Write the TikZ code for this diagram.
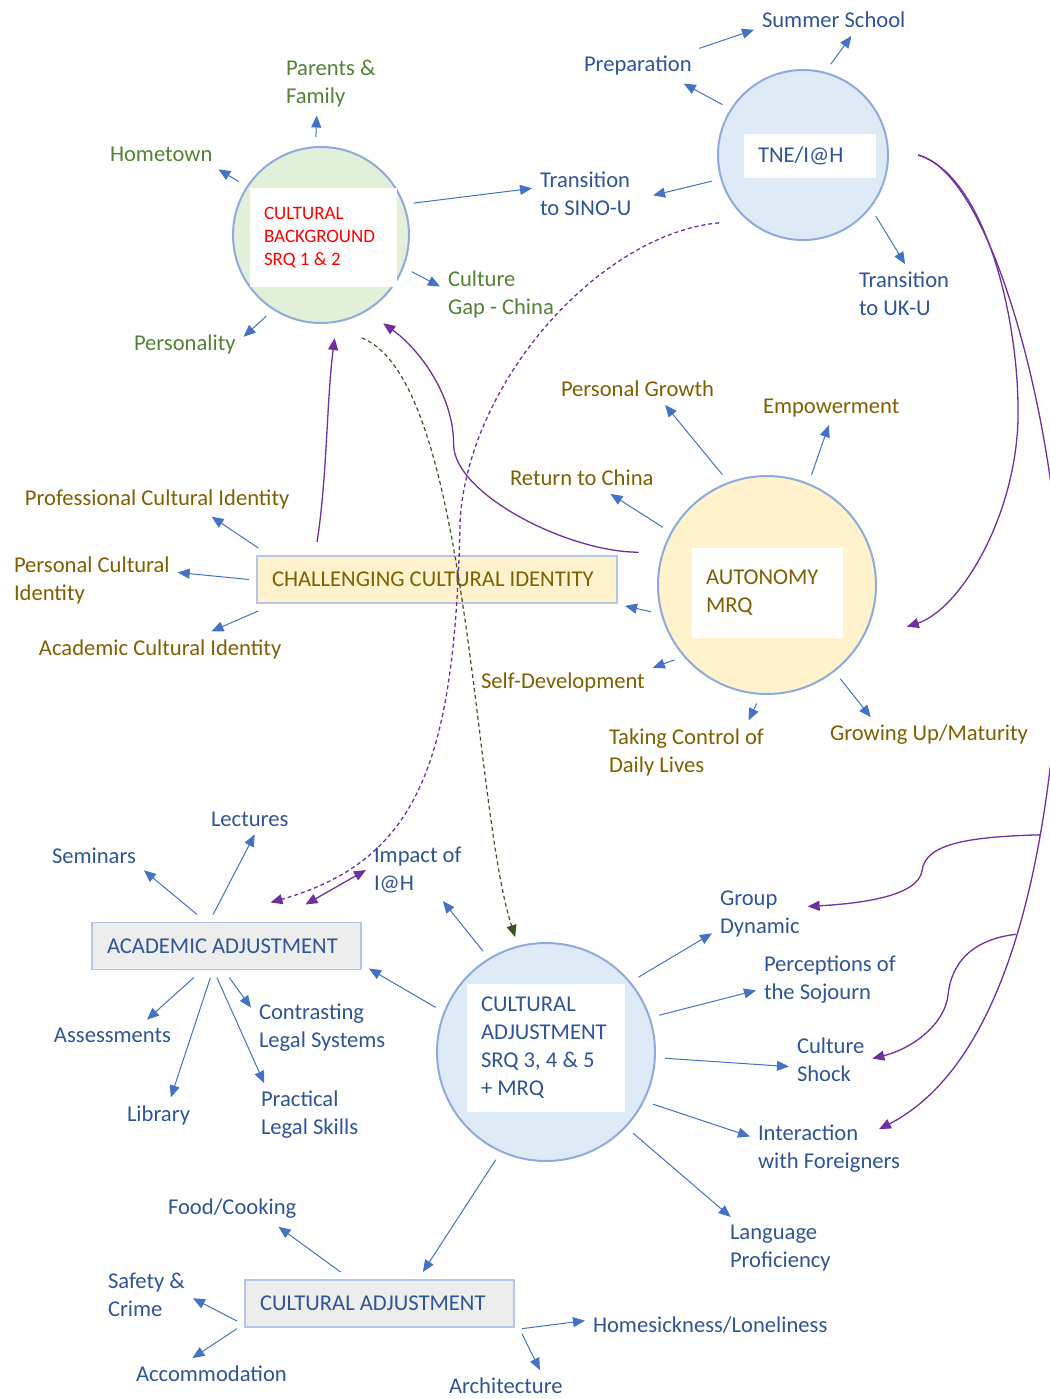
\documentclass[tikz,border=0pt]{standalone}
\usepackage{fontspec}
\setmainfont{Carlito}
\usepackage{tikz}
\usetikzlibrary{shapes, arrows.meta, positioning}
\usepackage{xcolor}
\definecolor{txtblue}{RGB}{47, 85, 151}
\definecolor{arrblue}{RGB}{68, 114, 196}
\definecolor{ringblue}{RGB}{143, 170, 220}
\definecolor{edgeblue}{RGB}{180, 199, 231}
\definecolor{txtgreen}{RGB}{84, 130, 53}
\definecolor{txtgold}{RGB}{127, 96, 0}
\definecolor{mypurple}{RGB}{112, 48, 160}
\definecolor{darkgreen}{RGB}{56, 87, 35}
\definecolor{fillgreen}{RGB}{226, 240, 217}
\definecolor{fillblue}{RGB}{222, 235, 247}
\definecolor{fillyellow}{RGB}{255, 242, 204}
\definecolor{fillgrey}{RGB}{237, 237, 237}

\begin{document}
\begin{tikzpicture}[x=0.5pt, y=-0.5pt,
  every node/.style={font=\fontsize{11.3}{14}\selectfont},
  hub/.style={circle, draw=ringblue, line width=1pt, inner sep=0pt, outer sep=5pt},
  inbox/.style={fill=white, align=flush left, inner xsep=7pt, inner ysep=0pt},
  bar/.style={draw=edgeblue, line width=0.8pt, align=flush left, inner xsep=7.5pt,
              minimum height=23.5pt, outer sep=4pt},
  item/.style={anchor=west, align=left, inner sep=1pt, outer sep=3pt},
  grn/.style={item, text=txtgreen},
  blu/.style={item, text=txtblue},
  gld/.style={item, text=txtgold},
  link/.style={draw=arrblue, line width=0.5pt, -{Triangle[length=6pt, width=5pt]}},
  tie/.style={draw=mypurple, line width=0.65pt, -{Triangle[length=6pt, width=5pt]}},
  thread/.style={dash pattern=on 2pt off 1.5pt}]

\useasboundingbox (0,0) rectangle (1050,1399);

% Four themes: circle with a white label card
\node[hub, fill=fillgreen, minimum size=88pt] (cb) at (321,235) {};
\node[inbox, text=red, font=\fontsize{9.5}{11.5}\selectfont, text width=59.5pt,
      minimum height=49.5pt] (cbtext) at (323.5,237.5) {CULTURAL\\BACKGROUND\\SRQ 1 \& 2};

\node[hub, fill=fillblue, minimum size=85pt] (tne) at (803,155) {};
\node[inbox, text=txtblue, text width=52pt, minimum height=22pt] (tnetext) at (810,156) {TNE/I@H};

\node[hub, fill=fillyellow, minimum size=109pt] (auto) at (767,585) {};
\node[inbox, text=txtgold, text width=61.5pt, minimum height=45pt] (autotext) at (767.5,593) {AUTONOMY\\MRQ};

\node[hub, fill=fillblue, minimum size=109pt] (cadj) at (546,1052) {};
\node[inbox, text=txtblue, text width=65pt, minimum height=64pt] (cadjtext) at (546,1048)
  {CULTURAL\\ADJUSTMENT\\SRQ 3, 4 \& 5\\+ MRQ};

% Sub-themes in boxes
\node[bar, fill=fillyellow, text=txtgold, text width=165pt] (chal) at (437,579.5) {CHALLENGING CULTURAL IDENTITY};
\node[bar, fill=fillgrey, text=txtblue, text width=119.5pt] (acad) at (226.5,946) {ACADEMIC ADJUSTMENT};
\node[bar, fill=fillgrey, text=txtblue, text width=119.5pt] (cabox) at (379.5,1303.5) {CULTURAL ADJUSTMENT};

% Cultural background codes
\node[grn] (parents) at (278,84) {Parents \&\\Family};
\node[grn] (hometown) at (102,154) {Hometown};
\node[grn] (personality) at (126,344) {Personality};
\node[grn] (gap) at (440,294) {Culture\\Gap - China};
\node[blu] (sino) at (532,194) {Transition\\to SINO-U};

% TNE codes
\node[blu] (summer) at (754,20) {Summer School};
\node[blu] (prep) at (576,66) {Preparation};
\node[blu] (ukuni) at (851,294) {Transition\\to UK-U};

% Autonomy and identity codes
\node[gld] (growth) at (553,389) {Personal Growth};
\node[gld] (empower) at (755,408) {Empowerment};
\node[gld] (returncn) at (502,478) {Return to China};
\node[gld] (profid) at (17,499) {Professional Cultural Identity};
\node[gld] (persid) at (6,580) {Personal Cultural\\Identity};
\node[gld] (acadid) at (31,649) {Academic Cultural Identity};
\node[gld] (selfdev) at (473,682) {Self-Development};
\node[gld] (control) at (601,752) {Taking Control of\\Daily Lives};
\node[gld] (maturity) at (822,735) {Growing Up/Maturity};

% Academic adjustment codes
\node[blu] (lectures) at (203,819) {Lectures};
\node[blu] (seminars) at (44,856) {Seminars};
\node[blu] (impact) at (366,870) {Impact of\\I@H};
\node[blu] (assess) at (46,1035) {Assessments};
\node[blu] (legalsys) at (251,1028) {Contrasting\\Legal Systems};
\node[blu] (library) at (119,1115) {Library};
\node[blu] (legalskill) at (253,1115) {Practical\\Legal Skills};

% Cultural adjustment codes
\node[blu] (group) at (712,914) {Group\\Dynamic};
\node[blu] (sojourn) at (756,980) {Perceptions of\\the Sojourn};
\node[blu] (shock) at (789,1060) {Culture\\Shock};
\node[blu] (foreign) at (750,1149) {Interaction\\with Foreigners};
\node[blu] (language) at (722,1248) {Language\\Proficiency};
\node[blu] (food) at (160,1209) {Food/Cooking};
\node[blu] (safety) at (100,1295) {Safety \&\\Crime};
\node[blu] (accom) at (128,1374) {Accommodation};
\node[blu] (homesick) at (585,1325) {Homesickness/Loneliness};
\node[blu] (arch) at (441,1386) {Architecture};

% blue spokes
\draw[link] (cb.93) -- (parents.-114);
\draw[link] (cb.147) -- (hometown.-15);
\draw[link] (cb.236) -- (personality.7);
\draw[link] (cb.19) -- (sino.174);
\draw[link] (cb.-22) -- (gap.173);

\draw[link] (tne.73) -- (summer.-42);
\draw[link] (prep.16) -- (summer.187);
\draw[link] (tne.148) -- (prep.-21);
\draw[link, shorten >=7pt] (tne.196) -- (sino.-5);
\draw[link] (tne.-40) -- (ukuni.88);

\draw[link] (auto.112) -- (growth.-30);
\draw[link] (auto.68) -- (empower.-98);
\draw[link] (auto.151) -- (returncn.-29);
\draw[link] (auto.193) -- (chal.-8);
\draw[link] (auto.219) -- (selfdev.9);
\draw[link] (auto.265) -- (control.27);
\draw[link] (auto.308) -- (maturity.163);

\draw[link] (chal.170) -- (profid.-18);
\draw[link] (chal.180) -- (persid.5);
\draw[link] (chal.190) -- (acadid.19);

\draw[link] (acad.133) -- (seminars.-16);
\draw[link] (acad.113) -- (lectures.-72);
\draw[link] (acad.224) -- (assess.24);
\draw[link] (acad.243) -- (library.55);
\draw[link] (acad.275) -- (legalsys.164);
\draw[link] (acad.253) -- (legalskill.145);

\draw[link] (cadj.122) -- (impact.-51);
\draw[link] (cadj.158) -- (acad.-9);
\draw[link] (cadj.39) -- (group.202);
\draw[link] (cadj.18) -- (sojourn.188);
\draw[link] (cadj.-3) -- (shock.189);
\draw[link] (cadj.-26) -- (foreign.171);
\draw[link] (cadj.-43) -- (language.148);
\draw[link] (cadj.245) -- (cabox.36);

\draw[link] (cabox.141) -- (food.-21);
\draw[link] (cabox.187) -- (safety.-4);
\draw[link] (cabox.190) -- (accom.140);
\draw[link] (cabox.-10) -- (homesick.178);
\draw[link] (cabox.-12) -- (arch.25);

% purple links between themes
\draw[tie] ([shift={(68,-6)}]chal.north west) .. controls +(10,-62) and +(-8,62) .. ([shift={(0,6)}]cb.-82);
\draw[tie] ([xshift=-7pt]auto.164) .. controls +(-70,0) and +(0,50) .. ++(-185,-108)
  .. controls +(0,-50) and +(35,25) .. ([shift={(6,8)}]cb.-55);
\draw[tie, thread] ([shift={(-10,8)}]tne.219) .. controls +(-118,11) and +(10,-140) .. ++(-259,296)
  .. controls +(-5,240) and +(150,-43) .. ([shift={(44,-12)}]acad.north);
\draw[tie, {Triangle[length=6pt, width=5pt]}-{Triangle[length=6pt, width=5pt]}]
  ([shift={(79,-10)}]acad.north) -- (impact.180);
\draw[draw=darkgreen, line width=0.6pt, thread, -{Triangle[length=6pt, width=5pt]}]
  ([shift={(4,12)}]cb.-68) .. controls +(108,42) and +(-43,-133) .. (cadj.105);

% long links down the right edge
\draw[tie] ([xshift=10pt]tne.east) .. controls +(67,20) and +(2,-100) .. ++(100,265)
  .. controls +(-3,100) and +(52,-17) .. ([shift={(26,7)}]auto.-17);
\draw[tie] ([xshift=10pt]tne.east) .. controls +(82,20) and +(10,-170) .. ++(142,495)
  .. controls +(-10,200) and +(130,-67) .. ([shift={(-29,12)}]foreign.north east)
  coordinate[pos=0.31] (k1) coordinate[pos=0.49] (k2);
\draw[tie] (k1) .. controls +(-80,2) and +(3,-25) .. ++(-118,36)
  .. controls +(-4,25) and +(55,-3) .. (group.9);
\draw[tie] (k2) .. controls +(-45,5) and +(3,-30) .. ++(-68,60)
  .. controls +(-3,30) and +(40,-10) .. (shock.2);

\end{tikzpicture}
\end{document}
